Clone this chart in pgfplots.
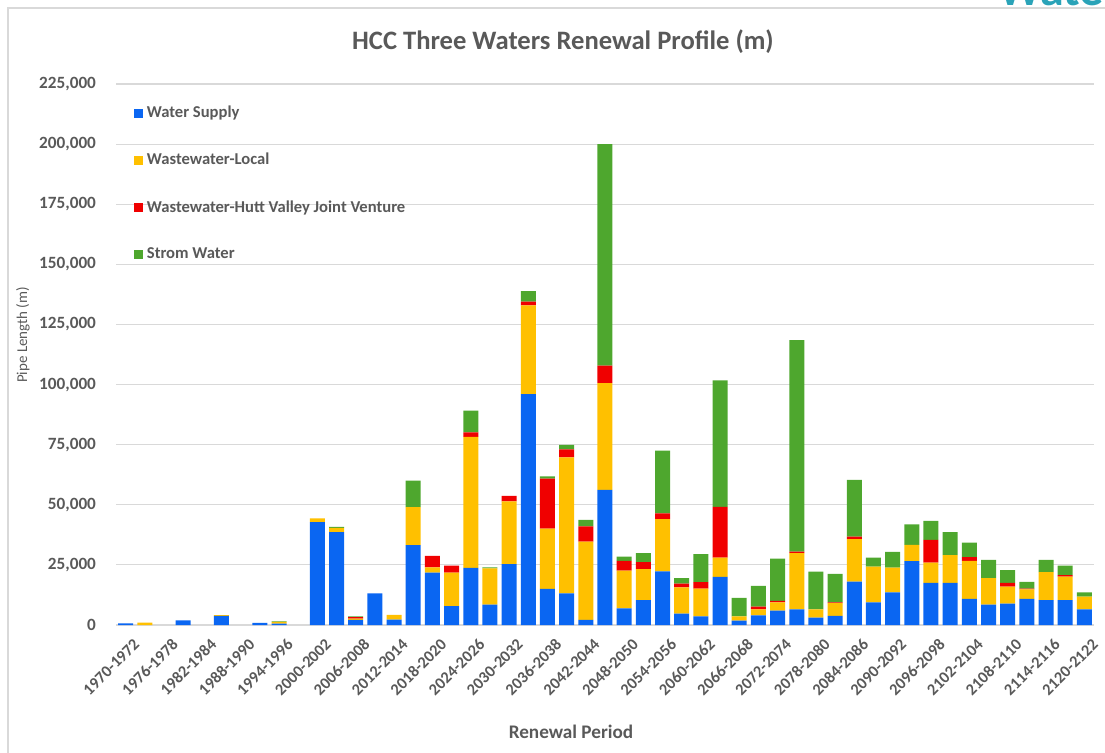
\documentclass[border=0pt]{standalone}
\usepackage{pgfplots}
\pgfplotsset{compat=1.18}
\usepackage{pgfplotstable}
\usepackage{fontspec}
\setmainfont{Carlito}
\definecolor{cBlue}{HTML}{0A66F2}
\definecolor{cYel}{HTML}{FFC000}
\definecolor{cRed}{HTML}{F00000}
\definecolor{cGreen}{HTML}{4EA72E}
\definecolor{cText}{HTML}{595959}
\definecolor{cGrid}{HTML}{D9D9D9}
\definecolor{cTeal}{HTML}{2AA3B8}

\pgfplotstableread{
x ws wl wh sw
0 700 0 0 0
1 0 1000 0 0
2 0 0 0 0
3 1900 0 0 0
4 0 0 0 0
5 3800 300 0 0
6 0 0 0 0
7 900 0 0 0
8 600 700 0 200
9 0 0 0 0
10 42800 1500 0 0
11 38600 1800 0 400
12 2100 600 600 300
13 13200 0 0 0
14 2200 2000 0 0
15 33200 15800 0 11000
16 21800 2200 4750 0
17 7900 13900 2900 0
18 23750 54450 1900 9100
19 8500 15000 0 500
20 25300 26100 2350 0
21 96000 36900 1600 4400
22 15000 25100 20750 950
23 13200 56500 3350 1850
24 2100 32600 6300 2750
25 56250 44300 7350 92100
26 6950 15700 4050 1750
27 10300 12900 2900 3750
28 22350 21650 2400 26100
29 4700 11000 1500 2250
30 3600 11500 2700 11650
31 20000 8050 21100 52550
32 1800 1800 0 7650
33 4050 2500 1100 8600
34 5950 3500 550 17650
35 6550 23300 700 87900
36 3050 3500 0 15650
37 3750 5300 400 11800
38 18050 17650 1100 23600
39 9450 14850 0 3750
40 13600 10300 0 6500
41 26550 6800 0 8450
42 17500 8450 9450 7950
43 17500 11550 0 9550
44 10850 15800 1550 6100
45 8450 11000 0 7650
46 8900 7050 1550 5300
47 10850 4000 300 2750
48 10300 11650 0 5150
49 10300 9850 550 4000
50 6550 5250 0 1800
}\datatable

\begin{document}
\begin{tikzpicture}
\useasboundingbox (0,0) rectangle (552.5pt,376pt);
\draw[cGrid, line width=0.6pt] (4pt,-10pt) -- (4pt,372pt) -- (570pt,372pt);
\node[anchor=south west, inner sep=0pt, text=cTeal, font=\bfseries\fontsize{24}{26}\selectfont] at (499pt,373pt) {Wate};
\node[text=cText, font=\bfseries\fontsize{13.3}{15}\selectfont] at (281.5pt,355pt) {HCC Three Waters Renewal Profile (m)};
\node[text=cText, font=\bfseries\fontsize{9.6}{11}\selectfont] at (285.5pt,10pt) {Renewal Period};
\node[text=cText, rotate=90, font=\fontsize{7.5}{9}\selectfont] at (11.5pt,208.5pt) {Pipe Length (m)};
\begin{axis}[
  at={(58pt,63.5pt)}, anchor=south west,
  scale only axis, width=489pt, height=270.5pt,
  ybar stacked, bar width=7.5pt,
  xmin=-0.5, xmax=50.5, ymin=0, ymax=225000,
  enlargelimits=false,
  axis line style={draw=none},
  major tick length=0pt,
  ymajorgrids, grid style={cGrid, line width=0.6pt},
  ytick={0,25000,...,225000},
  scaled y ticks=false,
  yticklabel style={/pgf/number format/fixed, /pgf/number format/1000 sep={,}, /pgf/number format/assume math mode=true},
  yticklabel style={text=cText, font=\bfseries\fontsize{8.6}{10}\selectfont, xshift=-6.5pt},
  xtick={0,2,...,50},
  xticklabels={1970-1972,1976-1978,1982-1984,1988-1990,1994-1996,2000-2002,2006-2008,2012-2014,2018-2020,2024-2026,2030-2032,2036-2038,2042-2044,2048-2050,2054-2056,2060-2062,2066-2068,2072-2074,2078-2080,2084-2086,2090-2092,2096-2098,2102-2104,2108-2110,2114-2116,2120-2122},
  xticklabel style={rotate=45, anchor=north east, text=cText, font=\bfseries\fontsize{8.2}{10}\selectfont, xshift=1.5pt, yshift=-3.5pt},
  legend style={draw=none, fill=none, at={(0.012,0.975)}, anchor=north west,
    row sep=12.3pt, font=\bfseries\fontsize{8.3}{10}\selectfont, text=cText},
  legend cell align=left,
  legend image code/.code={\fill[#1,draw=none] (0pt,-2.2pt) rectangle (4.4pt,2.2pt);},
]
\addplot[fill=cBlue, draw=none] table[x=x,y=ws]{\datatable};
\addplot[fill=cYel, draw=none] table[x=x,y=wl]{\datatable};
\addplot[fill=cRed, draw=none] table[x=x,y=wh]{\datatable};
\addplot[fill=cGreen, draw=none] table[x=x,y=sw]{\datatable};
\legend{Water Supply,Wastewater-Local,Wastewater-Hutt Valley Joint Venture,Strom Water}
\end{axis}
\end{tikzpicture}
\end{document}
